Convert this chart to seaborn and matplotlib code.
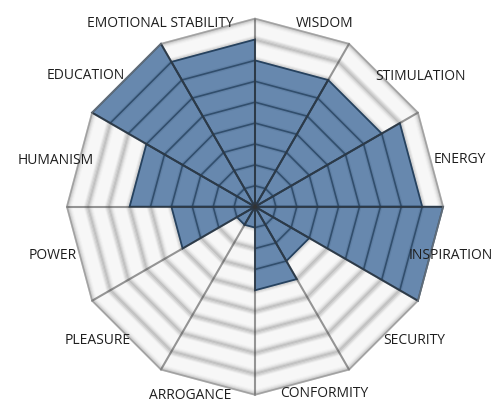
import numpy as np
import matplotlib
matplotlib.use("Agg")
import matplotlib.pyplot as plt
import seaborn as sns

# categories clockwise from the top spoke
categories = ["WISDOM", "STIMULATION", "ENERGY", "INSPIRATION", "SECURITY",
              "CONFORMITY", "ARROGANCE", "PLEASURE", "POWER", "HUMANISM",
              "EDUCATION", "EMOTIONAL STABILITY"]
scores = [7, 7, 8, 9, 3, 4, 1, 1, 4, 6, 9, 8]
n_rings = 9

# label placement (angle in degrees from top, radius in ring units)
label_angle = [20.9, 51.8, 77.1, 104.0, 130.0, 159.7, 199.0, 229.7, 256.4, 283.0, 307.8, 332.6]
label_radius = [9.38, 10.05, 10.05, 9.67, 9.95, 9.52, 9.57, 9.9, 9.95, 9.81, 10.24, 9.86]

sns.set_theme(style="white")
plt.rcParams["font.family"] = ["Open Sans", "DejaVu Sans"]

BLUE = "#6788ae"
NAVY = "#26425f"

n = len(categories)
spoke_ang = np.deg2rad(np.arange(n + 1) * 360 / n)


def ring_xy(r):
    return r * np.sin(spoke_ang), r * np.cos(spoke_ang)


fig = plt.figure(figsize=(5, 4.16), dpi=100)
ax = fig.add_axes([0, 0, 1, 1])
px = 20.9  # pixels per ring
ax.set_xlim(-255 / px, 245 / px)
ax.set_ylim(-209.3 / px, 206.7 / px)
ax.axis("off")

# background of the web
x, y = ring_xy(n_rings)
ax.fill(x, y, color="#f7f7f7", zorder=1)

# blurred ring boundaries in the empty part (embossed look)
blur = [(-0.16, 0.03), (-0.11, 0.06), (-0.06, 0.1), (0.0, 0.15),
        (0.05, 0.11), (0.1, 0.07), (0.15, 0.04), (0.21, 0.02)]
for k in range(1, n_rings + 1):
    for d, al in blur:
        if k == n_rings and d < 0:
            continue
        x, y = ring_xy(k - d)
        ax.plot(x, y, color="black", alpha=al, lw=1.3, zorder=1.5, solid_joinstyle="miter")

# filled sectors
for i, v in enumerate(scores):
    a0, a1 = spoke_ang[i], spoke_ang[i + 1]
    sx = [0, v * np.sin(a0), v * np.sin(a1)]
    sy = [0, v * np.cos(a0), v * np.cos(a1)]
    ax.fill(sx, sy, color=BLUE, lw=0, zorder=2)

# ring segments inside the filled sectors
for i, v in enumerate(scores):
    a0, a1 = spoke_ang[i], spoke_ang[i + 1]
    for k in range(1, v):
        for lw, al in [(3.0, 0.12), (1.2, 0.8)]:
            ax.plot([k * np.sin(a0), k * np.sin(a1)], [k * np.cos(a0), k * np.cos(a1)],
                    color=NAVY, lw=lw, alpha=al, zorder=4, solid_capstyle="butt")

# sector outlines
for i, v in enumerate(scores):
    a0, a1 = spoke_ang[i], spoke_ang[i + 1]
    sx = [0, v * np.sin(a0), v * np.sin(a1), 0]
    sy = [0, v * np.cos(a0), v * np.cos(a1), 0]
    ax.plot(sx, sy, color=NAVY, lw=1.3, zorder=4, solid_joinstyle="miter")

# spokes
for a in spoke_ang[:-1]:
    ax.plot([0, n_rings * np.sin(a)], [0, n_rings * np.cos(a)],
            color="#333333", alpha=0.5, lw=1.5, zorder=5)

# outer edge
x, y = ring_xy(n_rings)
ax.plot(x, y, color="#8a8a8a", alpha=0.6, lw=1.2, zorder=5)

# labels
for name, ang, rad in zip(categories, label_angle, label_radius):
    t = np.deg2rad(ang)
    ax.text(rad * np.sin(t), rad * np.cos(t), name, ha="center", va="center",
            fontsize=10, color="#1e1e1e", zorder=6)

fig.savefig("out.png", dpi=100, facecolor="white")
